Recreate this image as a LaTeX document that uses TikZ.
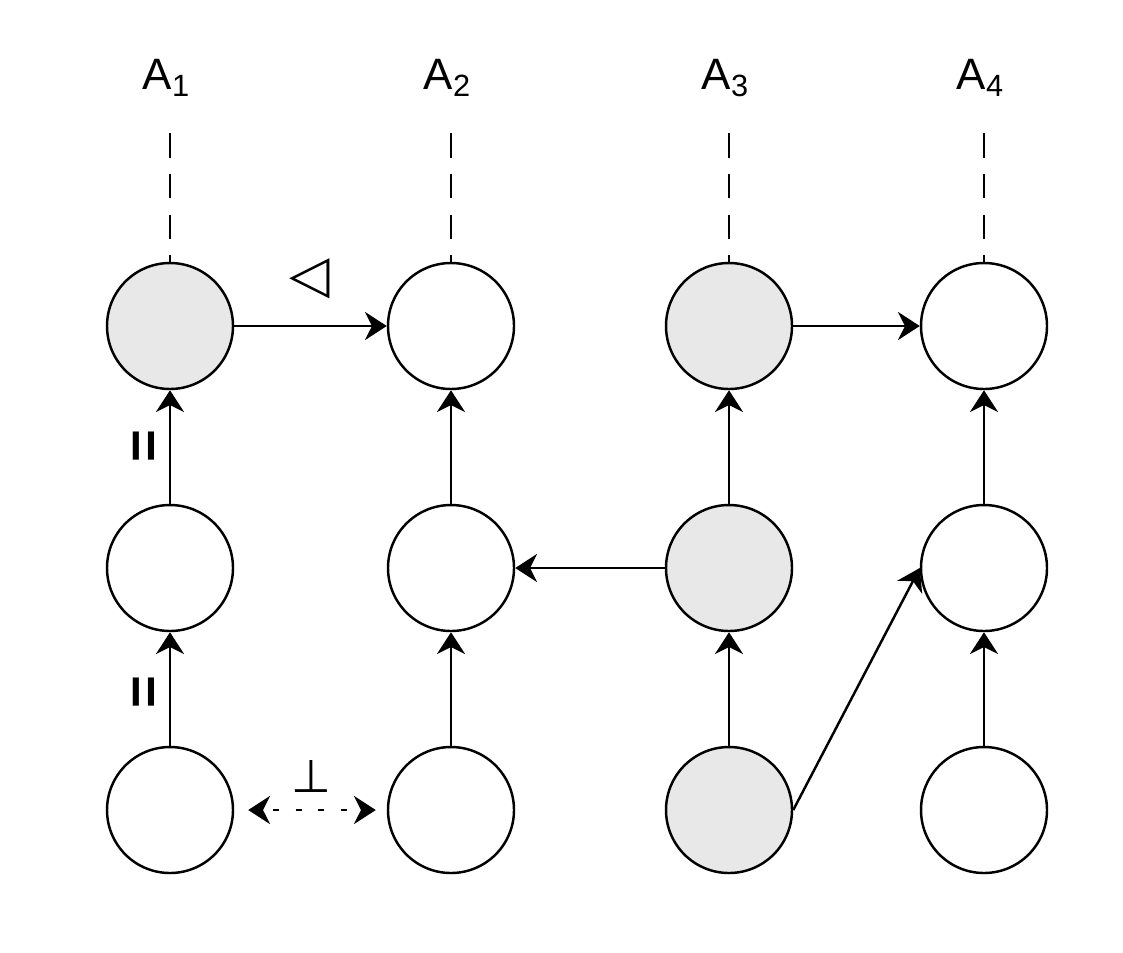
\documentclass[tikz,border=0pt]{standalone}
\usepackage{fontspec}
\setmainfont{Liberation Sans}
\newfontfamily\symfont{DejaVu Sans}
\usetikzlibrary{arrows.meta}

\begin{document}
\begin{tikzpicture}[x=1cm,y=-1cm]
		    \tikzstyle{circ}=[circle, draw, line width=0.7pt, inner sep=0pt, minimum width=1.26cm]
		    \tikzstyle{shade}=[circ, fill=black!9]
		    \tikzstyle{edge}=[draw, line width=0.7pt, -{Stealth[length=6.2pt,width=8pt,inset=2pt]}]
		    \tikzstyle{tag}=[font=\fontsize{12.5}{14}\selectfont]
		    \tikzstyle{eq}=[font=\bfseries\fontsize{16}{18}\selectfont, rotate=90]
		    \useasboundingbox (0,0) rectangle (11.23,9.52);

		    % four columns, three rows
		    \node[shade] (a1t) at (1.70,3.26) {};
		    \node[circ]  (a1m) at (1.70,5.68) {};
		    \node[circ]  (a1b) at (1.70,8.10) {};
		    \node[circ]  (a2t) at (4.51,3.26) {};
		    \node[circ]  (a2m) at (4.51,5.68) {};
		    \node[circ]  (a2b) at (4.51,8.10) {};
		    \node[shade] (a3t) at (7.29,3.26) {};
		    \node[shade] (a3m) at (7.29,5.68) {};
		    \node[shade] (a3b) at (7.29,8.10) {};
		    \node[circ]  (a4t) at (9.84,3.26) {};
		    \node[circ]  (a4m) at (9.84,5.68) {};
		    \node[circ]  (a4b) at (9.84,8.10) {};

		    % column labels
		    \foreach \i/\x in {1/1.70,2/4.51,3/7.29,4/9.84}{
		        \node[tag] (l\i) at (\x-0.03,0.78) {A\textsubscript{\i}};
		        \coordinate (d\i) at (\x,1.33);
		        \draw[line width=0.7pt, dash pattern=on 7pt off 4.6pt] (d\i) -- (a\i t.north);
		    }

		    \draw[edge] (a1t) -- (a2t);
		    \node at (3.10,2.79) {\symfont\bfseries\fontsize{15}{16}\selectfont ◁};
		    \draw[edge] (a1m) -- (a1t);
		    \node[eq] at (1.48,4.46) {=};
		    \draw[edge] (a1b) -- (a1m);
		    \node[eq] at (1.48,6.92) {=};
		    \draw[line width=0.7pt, dash pattern=on 1.7pt off 4.8pt, dash phase=-3pt,
		          {Stealth[length=6.2pt,width=8pt,inset=2pt]}-{Stealth[length=6.2pt,width=8pt,inset=2pt]},
		          shorten <=0.14cm, shorten >=0.11cm] (a1b) -- (a2b);
		    \node at (3.11,7.76) {\symfont\fontsize{13}{14}\selectfont ⊥};

		    \draw[edge] (a2m) -- (a2t);
		    \draw[edge] (a2b) -- (a2m);
		    \draw[edge] (a3m) -- (a2m);
		    \draw[edge] (a3m) -- (a3t);
		    \draw[edge] (a3b) -- (a3m);
		    \draw[edge] (a3t) -- (a4t);
		    \draw[edge] (a4m) -- (a4t);
		    \draw[edge] (a4b) -- (a4m);
		    \draw[edge] (a3b.east) -- (a4m.west);
\end{tikzpicture}
\end{document}
